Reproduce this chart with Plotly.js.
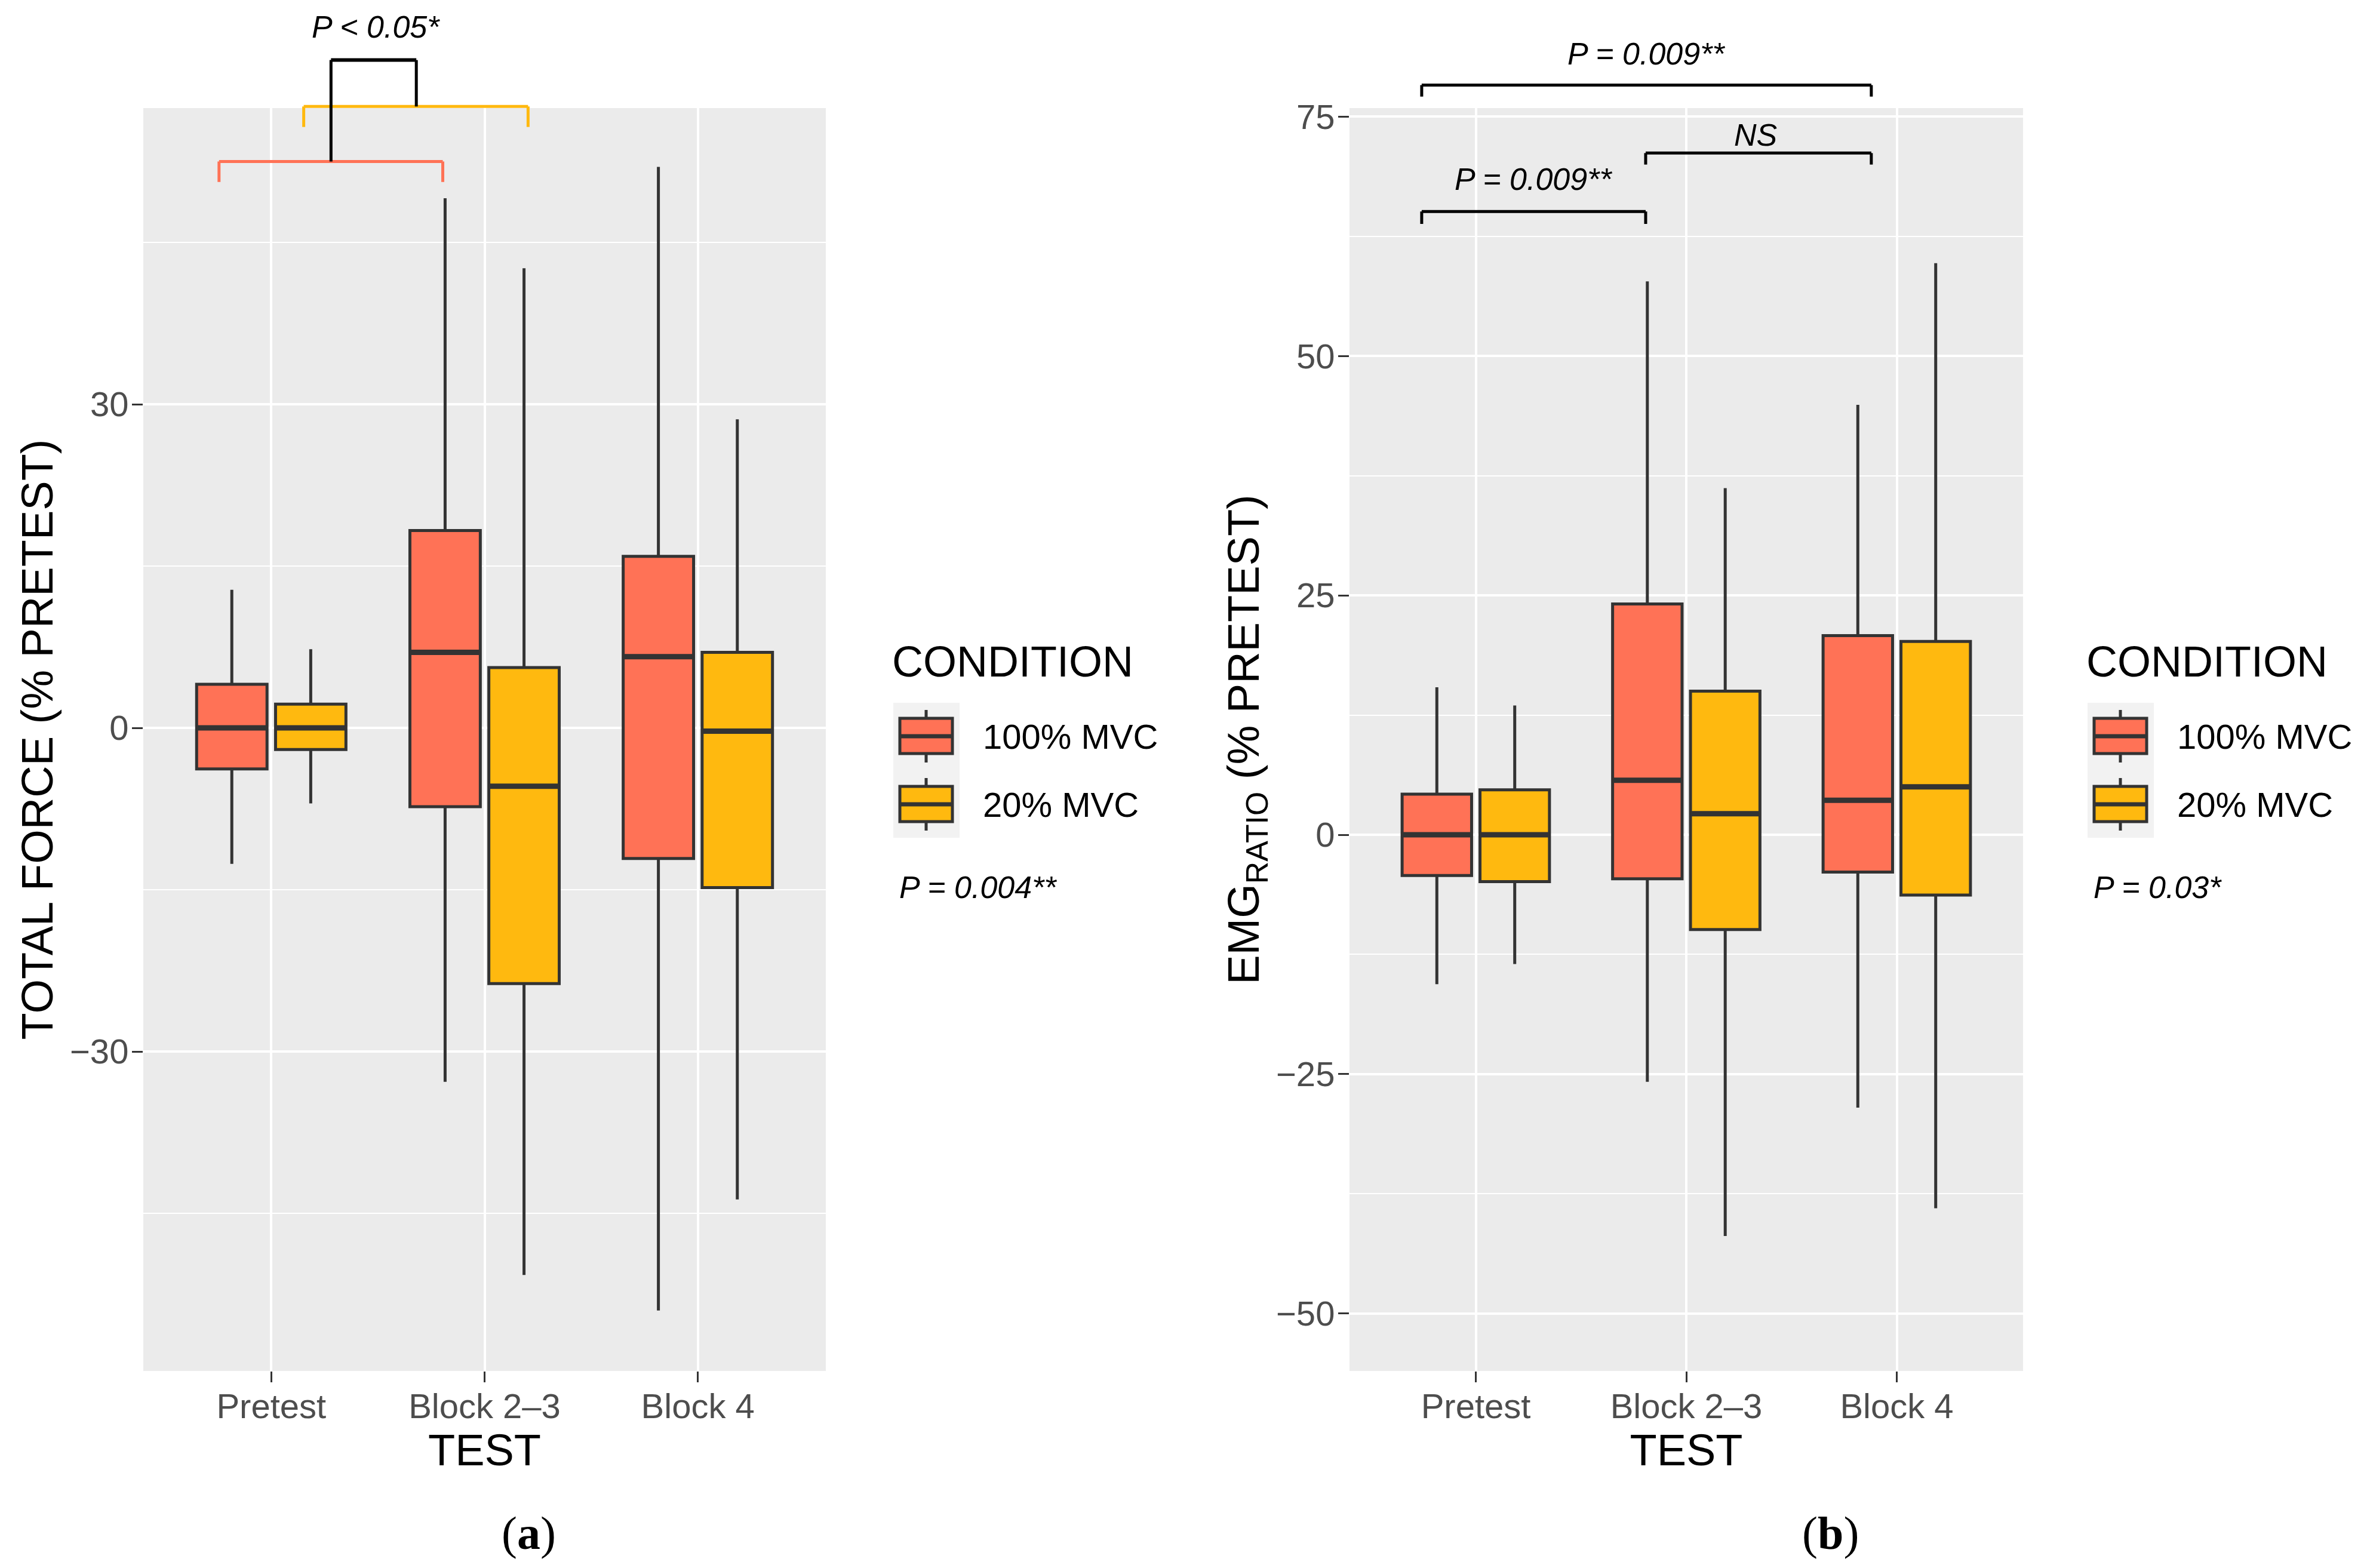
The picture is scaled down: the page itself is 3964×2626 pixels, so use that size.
<!DOCTYPE html>
<html><head><meta charset="utf-8">
<script src="https://cdn.plot.ly/plotly-3.0.1.min.js"></script>
<style>html,body{margin:0;padding:0;background:#fff}#chart{width:3964px;height:2626px}</style>
</head><body><div id="chart"></div>
<script>
// ---------- data ----------
const tests = ['Pretest', 'Block 2–3', 'Block 4'];
const conditions = ['100% MVC', '20% MVC'];

// (a) TOTAL FORCE (% PRETEST)
const forceLow100  = [-12.6, -32.8, -54.0];
const forceQ1_100  = [-3.8, -7.3, -12.1];
const forceMed100  = [0.0, 7.0, 6.6];
const forceQ3_100  = [4.05, 18.3, 15.9];
const forceHigh100 = [12.8, 49.1, 52.0];

const forceLow20  = [-7.0, -50.7, -43.7];
const forceQ1_20  = [-2.0, -23.7, -14.8];
const forceMed20  = [0.0, -5.4, -0.3];
const forceQ3_20  = [2.2, 5.6, 7.0];
const forceHigh20 = [7.3, 42.6, 28.6];

// (b) EMG RATIO (% PRETEST)
const emgLow100  = [-15.6, -25.8, -28.5];
const emgQ1_100  = [-4.25, -4.6, -3.9];
const emgMed100  = [0.0, 5.7, 3.6];
const emgQ3_100  = [4.25, 24.1, 20.8];
const emgHigh100 = [15.4, 57.8, 44.9];

const emgLow20  = [-13.5, -41.9, -39.0];
const emgQ1_20  = [-4.9, -9.9, -6.3];
const emgMed20  = [0.0, 2.2, 5.0];
const emgQ3_20  = [4.7, 15.0, 20.2];
const emgHigh20 = [13.5, 36.2, 59.7];

const pGroupA = 'P = 0.004**';
const pGroupB = 'P = 0.03*';

// ---------- styling / layout ----------
const W = 3964, H = 2626;
const F = 'Liberation Sans, Arial, Helvetica, sans-serif';
const COL = ['#FF7256', '#FFB90F'];
const OUT = '#333333';
const LW = 5;
const px = v => v / W;
const py = v => 1 - v / H;

const yDom = [py(2296), py(181)];
const xDomA = [px(240), px(1383)];
const xDomB = [px(2260), px(3388)];
const yRangeA = [-59.6, 57.45];
const yRangeB = [-56.0, 75.9];
const yp = (v, r) => yDom[0] + (v - r[0]) / (r[1] - r[0]) * (yDom[1] - yDom[0]);

function boxTrace(name, ci, low, q1, med, q3, high, xa, ya) {
  return {
    type: 'box', name: name, x: tests, q1: q1, median: med, q3: q3,
    lowerfence: low, upperfence: high, boxpoints: false, whiskerwidth: 0,
    offsetgroup: 'g' + ci,
    fillcolor: COL[ci], line: {color: OUT, width: LW},
    xaxis: xa, yaxis: ya, showlegend: false, hoverinfo: 'skip'
  };
}

const data = [
  boxTrace(conditions[0], 0, forceLow100, forceQ1_100, forceMed100, forceQ3_100, forceHigh100, 'x', 'y'),
  boxTrace(conditions[1], 1, forceLow20, forceQ1_20, forceMed20, forceQ3_20, forceHigh20, 'x', 'y'),
  boxTrace(conditions[0], 0, emgLow100, emgQ1_100, emgMed100, emgQ3_100, emgHigh100, 'x2', 'y2'),
  boxTrace(conditions[1], 1, emgLow20, emgQ1_20, emgMed20, emgQ3_20, emgHigh20, 'x2', 'y2')
];

function xAxis(domain, anchor) {
  return {
    domain: domain, anchor: anchor, type: 'category', categoryorder: 'array', categoryarray: tests,
    range: [-0.6, 2.6], showline: false, zeroline: false,
    showgrid: true, gridcolor: '#FFFFFF', gridwidth: 4,
    ticks: 'outside', ticklen: 18, tickwidth: 3, tickcolor: OUT, ticklabelstandoff: -10,
    tickfont: {family: F, size: 58, color: '#4D4D4D'},
    title: {text: 'TEST', font: {family: F, size: 74, color: '#000000'}, standoff: 8},
    fixedrange: true
  };
}
function yAxis(domain, anchor, range, dtick, title) {
  return {
    domain: domain, anchor: anchor, range: range, tick0: 0, dtick: dtick,
    showline: false, zeroline: false, showgrid: true, gridcolor: '#FFFFFF', gridwidth: 4,
    minor: {tick0: 0, dtick: dtick / 2, showgrid: true, gridcolor: '#FFFFFF', gridwidth: 2, ticks: ''},
    ticks: 'outside', ticklen: 18, tickwidth: 3, tickcolor: OUT, ticklabelstandoff: -6,
    tickfont: {family: F, size: 58, color: '#4D4D4D'},
    title: {text: title, font: {family: F, size: 74, color: '#000000'}, standoff: 4},
    fixedrange: true
  };
}

const shapes = [];
const annotations = [];

// thicker median bars (ggplot style), from the median arrays
const off = [-0.185, 0.185], half = 0.166;
[[forceMed100, forceMed20, 'x', 'y'], [emgMed100, emgMed20, 'x2', 'y2']].forEach(p => {
  [p[0], p[1]].forEach((med, ci) => {
    med.forEach((m, i) => {
      shapes.push({type: 'line', xref: p[2], yref: p[3], x0: i + off[ci] - half, x1: i + off[ci] + half,
        y0: m, y1: m, line: {color: OUT, width: 9}});
    });
  });
});

// significance brackets (x in category units, y in data units)
function bracket(xa, r, x0, x1, y, tick, color) {
  const l = (a, b, c, d) => shapes.push({type: 'line', xref: xa, yref: 'paper', x0: a, x1: b,
    y0: yp(c, r), y1: yp(d, r), line: {color: color, width: 5}});
  l(x0, x1, y, y);
  l(x0, x0, y, y - tick);
  l(x1, x1, y, y - tick);
}
function ptext(xa, r, x, y, text, size) {
  annotations.push({xref: xa, yref: 'paper', x: x, y: yp(y, r), text: '<i>' + text + '</i>',
    showarrow: false, xanchor: 'center', yanchor: 'middle', font: {family: F, size: size, color: '#000'}});
}
// panel a
bracket('x', yRangeA, -0.245, 0.804, 52.5, 1.9, COL[0]);
bracket('x', yRangeA, 0.152, 1.204, 57.6, 1.9, COL[1]);
shapes.push({type: 'line', xref: 'x', yref: 'paper', x0: 0.28, x1: 0.68, y0: yp(61.9, yRangeA), y1: yp(61.9, yRangeA), line: {color: '#000', width: 6}});
shapes.push({type: 'line', xref: 'x', yref: 'paper', x0: 0.28, x1: 0.28, y0: yp(61.9, yRangeA), y1: yp(52.5, yRangeA), line: {color: '#000', width: 5}});
shapes.push({type: 'line', xref: 'x', yref: 'paper', x0: 0.68, x1: 0.68, y0: yp(61.9, yRangeA), y1: yp(57.6, yRangeA), line: {color: '#000', width: 5}});
ptext('x', yRangeA, 0.49, 65.0, 'P &lt; 0.05*', 52);
// panel b
bracket('x2', yRangeB, -0.257, 1.879, 78.3, 1.2, '#000');
bracket('x2', yRangeB, 0.807, 1.879, 71.2, 1.2, '#000');
bracket('x2', yRangeB, -0.257, 0.807, 65.1, 1.3, '#000');
ptext('x2', yRangeB, 0.81, 81.6, 'P = 0.009**', 52);
ptext('x2', yRangeB, 1.33, 73.1, 'NS', 52);
ptext('x2', yRangeB, 0.275, 68.5, 'P = 0.009**', 52);

// legends (ggplot style keys)
function legend(x0, pText) {
  annotations.push({xref: 'paper', yref: 'paper', x: px(x0 - 4), y: py(1108), text: 'CONDITION', showarrow: false,
    xanchor: 'left', yanchor: 'middle', font: {family: F, size: 72, color: '#000'}});
  shapes.push({type: 'rect', xref: 'paper', yref: 'paper', x0: px(x0), x1: px(x0 + 111), y0: py(1177), y1: py(1403),
    fillcolor: '#F2F2F2', line: {width: 0}, layer: 'below'});
  for (let k = 0; k < 2; k++) {
    const yc = 1233 + k * 114;
    const xc = x0 + 55;
    shapes.push({type: 'line', xref: 'paper', yref: 'paper', x0: px(xc), x1: px(xc), y0: py(yc - 44), y1: py(yc + 44),
      line: {color: OUT, width: LW}});
    shapes.push({type: 'rect', xref: 'paper', yref: 'paper', x0: px(x0 + 11), x1: px(x0 + 99), y0: py(yc - 30), y1: py(yc + 29),
      fillcolor: COL[k], line: {color: OUT, width: LW}});
    shapes.push({type: 'line', xref: 'paper', yref: 'paper', x0: px(x0 + 11), x1: px(x0 + 99), y0: py(yc), y1: py(yc),
      line: {color: OUT, width: 7}});
    annotations.push({xref: 'paper', yref: 'paper', x: px(x0 + 148), y: py(yc), text: conditions[k], showarrow: false,
      xanchor: 'left', yanchor: 'middle', font: {family: F, size: 58, color: '#000'}});
  }
  annotations.push({xref: 'paper', yref: 'paper', x: px(x0 + 8), y: py(1486), text: '<i>' + pText + '</i>', showarrow: false,
    xanchor: 'left', yanchor: 'middle', font: {family: F, size: 52, color: '#000'}});
}
legend(1496, pGroupA);
legend(3496, pGroupB);

// panel captions
annotations.push({xref: 'paper', yref: 'paper', x: px(885), y: py(2567), text: '(<b>a</b>)', showarrow: false,
  xanchor: 'center', yanchor: 'middle', font: {family: 'Liberation Serif, Times New Roman, serif', size: 78, color: '#000'}});
annotations.push({xref: 'paper', yref: 'paper', x: px(3065), y: py(2567), text: '(<b>b</b>)', showarrow: false,
  xanchor: 'center', yanchor: 'middle', font: {family: 'Liberation Serif, Times New Roman, serif', size: 78, color: '#000'}});

const layout = {
  width: W, height: H, margin: {l: 0, r: 0, t: 0, b: 0},
  paper_bgcolor: '#FFFFFF', plot_bgcolor: '#EBEBEB',
  boxmode: 'group', boxgap: 0.26, boxgroupgap: 0.108,
  showlegend: false,
  xaxis: xAxis(xDomA, 'y'),
  yaxis: yAxis(yDom, 'x', yRangeA, 30, 'TOTAL FORCE (% PRETEST)'),
  xaxis2: xAxis(xDomB, 'y2'),
  yaxis2: yAxis(yDom, 'x2', yRangeB, 25, 'EMG<sub>RATIO</sub> (% PRETEST)'),
  shapes: shapes, annotations: annotations,
  font: {family: F}
};

Plotly.newPlot('chart', data, layout, {displayModeBar: false, staticPlot: true});
</script></body></html>
